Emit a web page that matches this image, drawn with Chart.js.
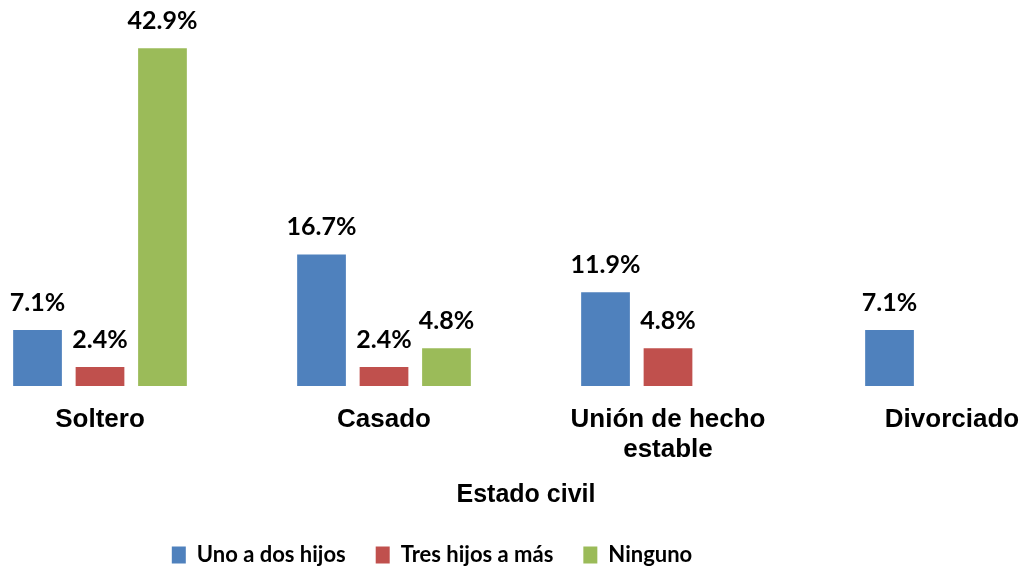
<!DOCTYPE html>
<html>
<head>
<meta charset="utf-8">
<script src="https://cdn.jsdelivr.net/npm/chart.js@4/dist/chart.umd.min.js"></script>
<style>
  html, body { margin: 0; padding: 0; background: #fff; overflow: hidden; }
  #wrap { position: absolute; left: -42px; top: 0; width: 1136px; height: 567px; }
</style>
</head>
<body>
<div id="wrap"><canvas id="chart" width="1136" height="567"></canvas></div>
<script>
// data
var categories = ["Soltero", "Casado", ["Unión de hecho", "estable"], "Divorciado"];
var seriesNames = ["Uno a dos hijos", "Tres hijos a más", "Ninguno"];
var unoADosHijos = [7.1, 16.7, 11.9, 7.1];
var tresHijosAMas = [2.4, 2.4, 4.8, null];
var ninguno = [42.9, 4.8, null, null];
var seriesColors = ["#4F81BD", "#C0504D", "#9BBB59"];
var axisTitle = "Estado civil";

Chart.defaults.font.family = "'Liberation Sans', Arial, sans-serif";
Chart.defaults.color = "#000";

// percentage labels above each bar
var barLabels = {
  id: "barLabels",
  afterDatasetsDraw: function(chart){
    var ctx = chart.ctx;
    ctx.save();
    ctx.font = "bold 25px Lato";
    ctx.fillStyle = "#000";
    ctx.textAlign = "center";
    ctx.textBaseline = "alphabetic";
    chart.data.datasets.forEach(function(ds, i){
      chart.getDatasetMeta(i).data.forEach(function(bar, j){
        var v = ds.data[j];
        if(v === null || v === undefined) return;
        ctx.fillText(v.toFixed(1) + "%", bar.x, bar.y - 19);
      });
    });
    ctx.restore();
  }
};

// the legend sits left of the plot centre in the reference
var legendShift = {
  id: "legendShift",
  afterLayout: function(chart){
    if(!chart.legend) return;
    chart.legend.left -= 94;
    chart.legend.right -= 94;
  }
};

var chart = new Chart(document.getElementById("chart"), {
  type: "bar",
  data: {
    labels: categories,
    datasets: [
      { label: seriesNames[0], data: unoADosHijos, backgroundColor: seriesColors[0] },
      { label: seriesNames[1], data: tresHijosAMas, backgroundColor: seriesColors[1] },
      { label: seriesNames[2], data: ninguno, backgroundColor: seriesColors[2] }
    ]
  },
  options: {
    responsive: false,
    animation: false,
    devicePixelRatio: 1,
    layout: { padding: { top: 8, bottom: -9, left: 0, right: 0 } },
    datasets: {
      bar: { categoryPercentage: 0.66, barPercentage: 0.78, skipNull: false }
    },
    plugins: {
      tooltip: { enabled: false },
      legend: {
        position: "bottom",
        labels: {
          boxWidth: 14,
          boxHeight: 17,
          padding: 30,
          color: "#000",
          font: { family: "Lato", size: 22, weight: "bold" }
        }
      }
    },
    scales: {
      y: {
        display: false,
        min: 0,
        max: 48
      },
      x: {
        grid: { display: false, drawTicks: false },
        border: { display: false },
        ticks: {
          padding: 19,
          color: "#000",
          font: { size: 26, weight: "bold", lineHeight: 1.15 }
        },
        title: {
          display: true,
          text: axisTitle,
          color: "#000",
          padding: { top: 0, bottom: 4 },
          font: { size: 25, weight: "bold", lineHeight: 1.2 }
        },
        afterFit: function(scale){
          scale.height = 128;
        }
      }
    }
  },
  plugins: [barLabels, legendShift]
});
</script>
</body>
</html>
